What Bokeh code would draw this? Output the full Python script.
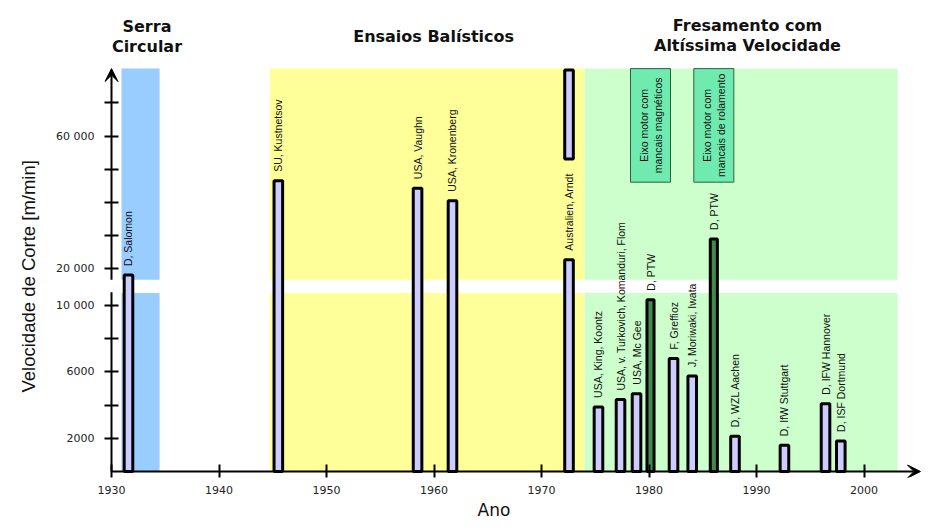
import math
from bokeh.plotting import figure
from bokeh.models import Range1d, FixedTicker, ColumnDataSource, Arrow, VeeHead, Title
from bokeh.core.properties import value
from bokeh.embed import file_html
from bokeh.resources import INLINE

# ---------------- data ----------------
bar_labels = ["D, Salomon", "SU, Kustnetsov", "USA, Vaughn", "USA, Kronenberg",
              "Australien, Arndt", "USA, King, Koontz",
              "USA, v. Turkovich, Komanduri, Flom", "USA, Mc Gee", "D, PTW",
              "F, Greffioz", "J, Moriwaki, Iwata", "D, PTW", "D, WZL Aachen",
              "D, IfW Stuttgart", "D, IFW Hannover", "D, ISF Dortmund"]
bar_years = [1931.58, 1945.52, 1958.47, 1961.72, 1972.56, 1975.30, 1977.35, 1978.84,
             1980.14, 1982.28, 1984.02, 1986.03, 1988.00, 1992.60, 1996.42, 1997.84]
bar_speeds = [18100, 46500, 44300, 40500, 22750, 3890, 4330, 4690,
              10350, 6800, 5750, 29000, 2120, 1580, 4080, 1840]
bar_kinds = ["exp", "exp", "exp", "exp", "exp", "exp", "exp", "exp",
             "spindle", "exp", "exp", "spindle", "exp", "exp", "exp", "exp"]
# Arndt's bar runs off the scale: visible upper continuation piece
arndt_cont = [53100, 79900]

spindle_notes = [["Eixo motor com", "mancais magnéticos"],
                 ["Eixo motor com", "mancais de rolamento"]]
note_bottom = 46100

band_titles = [["Serra", "Circular"], ["Ensaios Balísticos"],
               ["Fresamento com", "Altíssima Velocidade"]]
band_start = [1930.93, 1944.73, 1974.0]
band_end = [1934.47, 1974.0, 2003.12]
band_colors = ["#99CCFF", "#FFFF99", "#CCFFCC"]

x_ticks = [1930, 1940, 1950, 1960, 1970, 1980, 1990, 2000]
y_tick_vals = [2000, 4000, 6000, 8000, 10000, 20000, 30000, 40000, 50000, 60000, 70000]
y_tick_text = ["2000", "", "6000", "", "10 000", "20 000", "", "", "", "60 000", ""]

# ------------- broken y scale -------------
LOWER_MAX = 10750
UPPER_MIN = 16700
UPPER_MAX = 80300
GAP = 0.8


def d(v):
    if v <= LOWER_MAX:
        return v / 1000.0
    return LOWER_MAX / 1000.0 + GAP + (v - UPPER_MIN) / 5000.0


PX_X = 10.75   # px per year
PX_Y = 16.6    # px per display unit
X0 = 1930
X_START = X0 - 7 / PX_X
X_END = X0 + 816 / PX_X
Y_START = -6 / PX_Y
D_TOP = 461 / PX_Y

p = figure(width=945, height=531, output_backend="svg", toolbar_location=None,
           x_range=Range1d(X_START, X_END), y_range=Range1d(Y_START, D_TOP),
           min_border_left=104, min_border_right=18, min_border_top=10,
           min_border_bottom=54)
p.outline_line_color = None
p.xgrid.visible = False
p.ygrid.visible = False
p.background_fill_color = "white"
p.border_fill_color = "white"

# background bands (lower and upper segments)
bands = ColumnDataSource(dict(left=band_start, right=band_end, color=band_colors))
p.quad(left="left", right="right", bottom=0, top=d(LOWER_MAX), fill_color="color",
       line_color=None, source=bands)
p.quad(left="left", right="right", bottom=d(UPPER_MIN), top=d(UPPER_MAX),
       fill_color="color", line_color=None, source=bands)

# bars
tops = [d(v) for v in bar_speeds]
exp_idx = [i for i, k in enumerate(bar_kinds) if k == "exp"]
sp_idx = [i for i, k in enumerate(bar_kinds) if k == "spindle"]
src_exp = ColumnDataSource(dict(x=[bar_years[i] for i in exp_idx],
                                top=[tops[i] for i in exp_idx]))
src_sp = ColumnDataSource(dict(x=[bar_years[i] for i in sp_idx],
                               top=[tops[i] for i in sp_idx]))
p.vbar(x="x", top="top", bottom=0, width=0.8, fill_color="#CCCCFF",
       line_color="black", line_width=3, source=src_exp)
p.vbar(x="x", top="top", bottom=0, width=0.66, fill_color="#408A50",
       line_color="black", line_width=3, source=src_sp)
arndt_i = bar_labels.index("Australien, Arndt")
p.vbar(x=[bar_years[arndt_i]], bottom=[d(arndt_cont[0])], top=[d(arndt_cont[1])],
       width=0.8, fill_color="#CCCCFF", line_color="black", line_width=3)

# bar labels
lab_src = ColumnDataSource(dict(x=bar_years, y=tops, text=bar_labels))
p.text(x="x", y="y", text="text", angle=math.pi / 2, text_align="left",
       text_baseline="middle", y_offset=-9, text_font=value("Liberation Sans"),
       text_font_size="10.5px", text_color="#111111", source=lab_src)

# spindle note boxes above the PTW bars
note_x = [bar_years[i] for i in sp_idx]
p.quad(left=[x - 1.86 for x in note_x], right=[x + 1.86 for x in note_x],
       bottom=d(note_bottom), top=d(UPPER_MAX), fill_color="#70EBB0",
       line_color="#2F5F3F", line_width=1)
note_mid = (d(note_bottom) + d(UPPER_MAX)) / 2
for x, lines in zip(note_x, spindle_notes):
    p.text(x=[x, x], y=[note_mid, note_mid], text=lines, angle=math.pi / 2,
           x_offset=[-7, 7], text_align="center", text_baseline="middle",
           text_font=value("Liberation Sans"), text_font_size="10.5px",
           text_color="#111111")

# band titles
title_y = [[26.83, 25.62], [26.2], [26.87, 25.66]]
for s, e, lines, ys in zip(band_start, band_end, band_titles, title_y):
    cx = (s + e) / 2 + 0.6
    p.text(x=[cx] * len(lines), y=ys, text=lines, text_align="center",
           text_baseline="middle", text_font=value("DejaVu Sans"),
           text_font_style="bold", text_font_size="16px", text_color="#111111")

# axes (ticks cross the drawn axis lines)
p.xaxis.ticker = FixedTicker(ticks=x_ticks)
p.xaxis.axis_line_color = None
p.xaxis.major_tick_in = 13
p.xaxis.major_tick_out = 0
p.xaxis.major_tick_line_width = 2
p.xaxis.minor_tick_line_color = None
p.xaxis.major_label_standoff = 8
p.xaxis.major_label_text_font = "DejaVu Sans"
p.xaxis.major_label_text_font_size = "11px"
p.xaxis.major_label_text_color = "#222222"

ytk = [d(v) for v in y_tick_vals]
p.yaxis.ticker = FixedTicker(ticks=ytk)
p.yaxis.major_label_overrides = {t: s for t, s in zip(ytk, y_tick_text)}
p.yaxis.axis_line_color = None
p.yaxis.major_tick_in = 14
p.yaxis.major_tick_out = 0
p.yaxis.major_tick_line_width = 2
p.yaxis.minor_tick_line_color = None
p.yaxis.major_label_standoff = 10
p.yaxis.major_label_text_font = "DejaVu Sans"
p.yaxis.major_label_text_font_size = "11px"
p.yaxis.major_label_text_color = "#222222"

# broken y-axis line and arrows
p.segment(x0=[X0], y0=[0], x1=[X0], y1=[d(LOWER_MAX) + 0.05],
          line_color="black", line_width=2)
p.add_layout(Arrow(end=VeeHead(size=13, fill_color="black", line_color="black"),
                   x_start=X0, y_start=d(UPPER_MIN), x_end=X0,
                   y_end=d(UPPER_MAX), line_color="black", line_width=2))
p.add_layout(Arrow(end=VeeHead(size=13, fill_color="black", line_color="black"),
                   x_start=X0, y_start=0, x_end=X0 + 809 / PX_X,
                   y_end=0, line_color="black", line_width=2))

# axis titles
p.add_layout(Title(text="Velocidade de Corte [m/min]", align="left", offset=85,
                   standoff=30, text_font="Liberation Sans", text_font_size="18.5px",
                   text_font_style="normal", text_color="#111111"), "left")
p.add_layout(Title(text="Ano", align="left", offset=373, standoff=2,
                   text_font="DejaVu Sans", text_font_size="17px",
                   text_font_style="normal", text_color="#111111"), "below")

open("out.html", "w").write(file_html(p, INLINE))
